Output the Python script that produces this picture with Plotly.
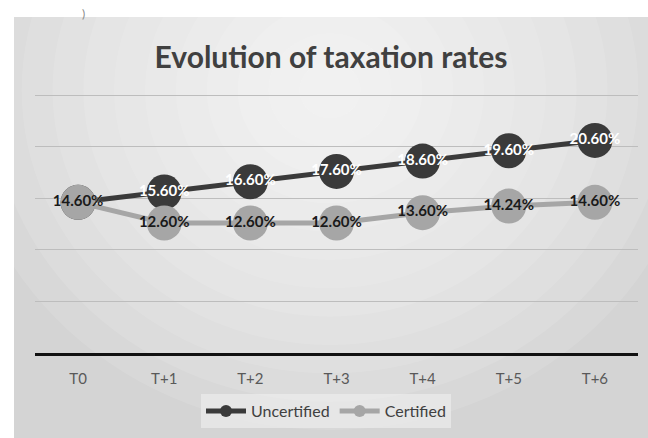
import plotly.graph_objects as go

categories = ["T0", "T+1", "T+2", "T+3", "T+4", "T+5", "T+6"]
uncertified = [14.60, 15.60, 16.60, 17.60, 18.60, 19.60, 20.60]
certified = [14.60, 12.60, 12.60, 12.60, 13.60, 14.24, 14.60]

W, H = 648, 438
L, R, T, B = 35, 10, 94, 85
pw, ph = W - L - R, H - T - B

def px_x(p):
    return (p - L) / pw

def px_y(p):
    return (H - B - p) / ph

fig = go.Figure()

fig.add_trace(go.Scatter(
    x=categories, y=uncertified, name="Uncertified", mode="lines+markers+text",
    line=dict(color="#3a3a3a", width=5),
    marker=dict(color="#3a3a3a", size=35),
    texttemplate="%{y:.2f}%", textposition="middle center",
    textfont=dict(color="white", size=15, family="Lato", weight="bold"),
))
fig.add_trace(go.Scatter(
    x=categories, y=certified, name="Certified", mode="lines+markers+text",
    line=dict(color="#a6a6a6", width=5),
    marker=dict(color="#a6a6a6", size=35),
    texttemplate="%{y:.2f}%", textposition="middle center",
    textfont=dict(color="#1a1a1a", size=15, family="Lato", weight="bold"),
))

shapes = [dict(type="rect", xref="paper", yref="paper",
               x0=px_x(14), x1=px_x(W), y0=px_y(H), y1=px_y(17),
               fillcolor="#d4d4d4", line=dict(width=0), layer="below")]
n = 12
for i in range(n):
    f = 1 - i / n
    rx, ry = 370 * f, 340 * f
    cx, cy = 330, 90
    shapes.append(dict(type="circle", xref="paper", yref="paper",
                       x0=px_x(cx - rx), x1=px_x(cx + rx),
                       y0=px_y(cy + ry), y1=px_y(cy - ry),
                       fillcolor="white", opacity=0.11, line=dict(width=0), layer="below"))

fig.update_layout(
    width=W, height=H,
    margin=dict(l=L, r=R, t=T, b=B),
    paper_bgcolor="white", plot_bgcolor="rgba(0,0,0,0)",
    font=dict(family="Lato", color="#595959"),
    title=dict(text="<b>Evolution of taxation rates</b>", x=331 / W, xanchor="center",
               xref="container", yref="container", y=1 - 57 / H, yanchor="middle",
               font=dict(size=30, color="#404040", family="Lato")),
    showlegend=True,
    legend=dict(orientation="h", x=px_x(326), xanchor="center", y=px_y(411), yanchor="middle",
                bgcolor="rgba(240,240,240,0.6)", font=dict(size=16, color="#404040"),
                itemsizing="constant", itemwidth=40),
    shapes=shapes,
    annotations=[dict(text=")", xref="paper", yref="paper", x=px_x(80), y=px_y(4),
                      showarrow=False, font=dict(size=12, color="#888888"))],
)
fig.update_xaxes(range=[-0.5, 6.5], showgrid=False, showline=True, linecolor="#111111", linewidth=3,
                 ticks="outside", ticklen=10, tickcolor="rgba(0,0,0,0)",
                 tickfont=dict(size=15, color="#595959"), zeroline=False)
fig.update_yaxes(range=[0, 25.1], dtick=5, showticklabels=False, showgrid=True,
                 gridcolor="#bdbdbd", gridwidth=1, zeroline=False)

fig.write_html("out.html")
